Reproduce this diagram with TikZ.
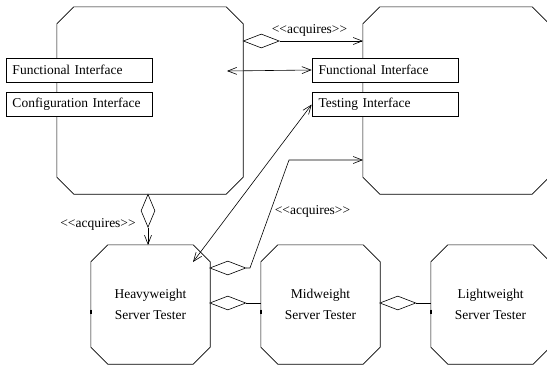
\documentclass[tikz,border=0pt]{standalone}
\usepackage{fontspec}
\setmainfont{Liberation Serif}
\usetikzlibrary{shapes.geometric,arrows.meta,calc}
\newcommand\drawocta[2]{%
  \draw[line width=0.6pt] ($(#1.north west)+(#2,0)$) -- ($(#1.north east)+(-#2,0)$)
    -- ($(#1.north east)+(0,#2)$) -- ($(#1.south east)+(0,-#2)$)
    -- ($(#1.south east)+(-#2,0)$) -- ($(#1.south west)+(#2,0)$)
    -- ($(#1.south west)+(0,-#2)$) -- ($(#1.north west)+(0,#2)$) -- cycle;}
\tikzset{
  octa/.style={rectangle, inner sep=0pt, align=center},
  ibox/.style={draw, line width=0.6pt, fill=white, rectangle, minimum width=146pt, minimum height=24pt, inner sep=0pt, text width=133pt, align=left},
  agg/.style={draw, line width=0.6pt, fill=white, diamond, inner sep=0pt},
  hagg/.style={agg, minimum width=36pt, minimum height=14pt},
  vagg/.style={agg, minimum width=14pt, minimum height=33pt},
  conn/.style={line width=0.6pt},
  arr/.style={conn, -{Straight Barb[length=9pt,width=7pt]}},
  barr/.style={conn, {Straight Barb[length=9pt,width=7pt]}-{Straight Barb[length=9pt,width=7pt]}},
  lbl/.style={inner sep=0pt},
  port/.style={line width=1.6pt}
}
\begin{document}
\begin{tikzpicture}[x=1pt,y=-1pt,font=\fontsize{13.5}{21}\selectfont]
\useasboundingbox (0,0) rectangle (547,367);
% big capsules
\node[octa, minimum width=186pt, minimum height=187pt] (lc) at (150,100.5) {};
\node[octa, minimum width=186pt, minimum height=187pt] (rc) at (456,100.5) {};
\drawocta{lc}{17}
\drawocta{rc}{17}
% interfaces
\node[ibox] (lfunc) at (79,70) {Functional Interface};
\node[ibox] (lconf) at (79,104.5) {Configuration Interface};
\node[ibox] (rfunc) at (385,70) {Functional Interface};
\node[ibox] (rtest) at (385,104.5) {Testing Interface};
% testers
\node[octa, minimum width=119pt, minimum height=119pt] (hv) at (150.5,304.5) {Heavyweight\\Server Tester};
\node[octa, minimum width=119pt, minimum height=119pt] (md) at (320.5,304.5) {Midweight\\Server Tester};
\node[octa, minimum width=119pt, minimum height=119pt] (lt) at (490.5,304.5) {Lightweight\\Server Tester};
\drawocta{hv}{17}
\drawocta{md}{17}
\drawocta{lt}{17}
% ports
\draw[port] (hv.west |- 0,309.5) coordinate (hvp1) -- (hv.west |- 0,314) coordinate (hvp2);
\draw[port] (md.west |- 0,309.5) coordinate (mdp1) -- (md.west |- 0,314) coordinate (mdp2);
\draw[port] (lt.west |- 0,309.5) coordinate (ltp1) -- (lt.west |- 0,314) coordinate (ltp2);
% top acquires
\node[hagg, anchor=west] (d1) at (243,41) {};
\coordinate (rcin1) at (363,41);
\draw[arr] (d1.east) -- (rcin1);
\node[lbl] (a1) at (309.5,30) {<{}<acquires>{}>};
% functional link
\coordinate (lcin) at (227,71);
\draw[barr] (lcin) -- (rfunc.west);
% vertical acquires
\node[vagg, anchor=north] (d2) at (148,194) {};
\coordinate (hvtop) at (148,245);
\draw[arr] (d2.south) -- (hvtop);
\node[lbl] (a2) at (98,224) {<{}<acquires>{}>};
% testing link
\coordinate (hvin) at (193,262);
\draw[barr] (hvin) -- (rtest.west);
% lower acquires
\node[hagg, anchor=west] (d3) at (209.5,268) {};
\coordinate (k1) at (250,268);
\coordinate (k2) at (289,160);
\coordinate (rcin2) at (363,160);
\draw[arr] (d3.east) -- (k1) -- (k2) -- (rcin2);
\node[lbl] (a3) at (312.5,211) {<{}<acquires>{}>};
% tester chain
\node[hagg, anchor=west] (d4) at (209.5,303) {};
\draw[conn] (d4.east) -- (d4.east -| md.west);
\node[hagg, anchor=west] (d5) at (379.5,303) {};
\draw[conn] (d5.east) -- (d5.east -| lt.west);
\end{tikzpicture}
\end{document}
